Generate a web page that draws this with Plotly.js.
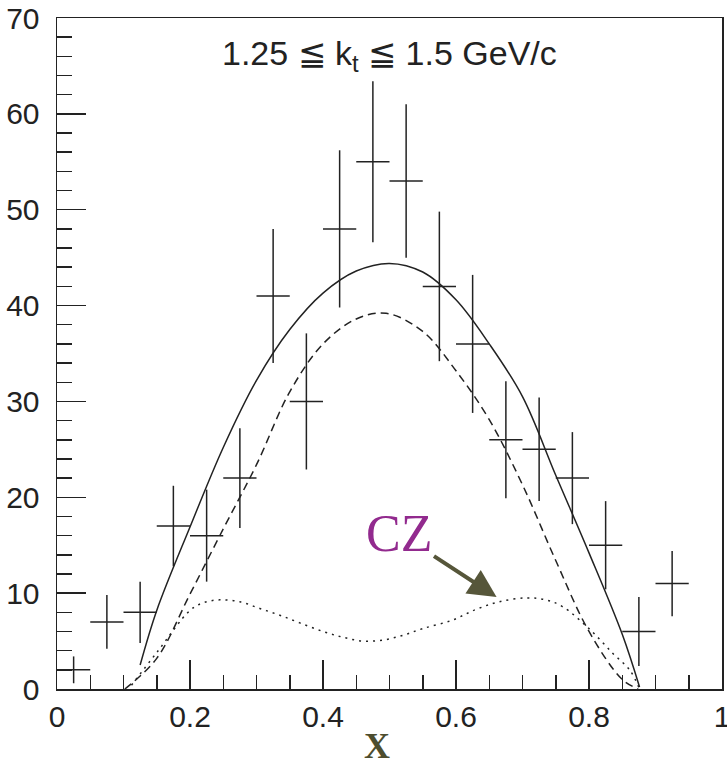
<!DOCTYPE html>
<html>
<head>
<meta charset="utf-8">
<script src="https://cdn.plot.ly/plotly-3.0.1.min.js"></script>
<style>html,body{margin:0;padding:0;background:#fff;}#chart{width:727px;height:769px;}</style>
</head>
<body>
<div id="chart"></div>
<script>
// Data points (bin centres, counts, vertical errors)
const dataX = [0.025,0.075,0.125,0.175,0.225,0.275,0.325,0.375,0.425,0.475,0.525,0.575,0.625,0.675,0.725,0.775,0.825,0.875,0.925];
const dataY = [2,7,8,17,16,22,41,30,48,55,53,42,36,26,25,22,15,6,11];
const dataErr = [1.4,2.8,3.2,4.2,4.8,5.2,7.0,7.1,8.2,8.4,8.0,7.8,7.2,6.1,5.4,4.8,4.6,3.6,3.4];
const binHalfWidth = 0.025;

// Total model (solid)
const solidX = [0.125,0.15,0.2,0.25,0.3,0.35,0.4,0.45,0.5,0.55,0.6,0.65,0.7,0.75,0.8,0.85,0.876];
const solidY = [2.5,8.2,16.9,25.2,32.2,37.5,41.3,43.6,44.4,43.5,40.6,36.0,30.5,22.3,14.2,5.7,0.2];

// Dashed component
const dashX = [0.102,0.15,0.2,0.25,0.3,0.35,0.4,0.45,0.495,0.55,0.6,0.65,0.7,0.75,0.8,0.85,0.874];
const dashY = [0,3.2,9.9,16.7,23.4,31.0,36.0,38.6,39.2,37.3,33.2,28.1,21.3,13.4,6.0,1.0,0];

// CZ component (dotted)
const czX = [0.112,0.15,0.2,0.22,0.245,0.275,0.305,0.335,0.365,0.4,0.43,0.46,0.49,0.52,0.55,0.595,0.63,0.665,0.706,0.735,0.76,0.8,0.836,0.861,0.876];
const czY = [0.4,3.8,8.2,9.0,9.3,9.1,8.4,7.7,6.9,6.0,5.4,5.0,5.1,5.6,6.3,7.2,8.3,9.1,9.5,9.3,8.6,6.3,3.7,2.0,0];

const titleText = "1.25 ≦ k<sub>t</sub> ≦ 1.5 GeV/c";
const czLabel = "CZ";
const xLabel = "X";

const ink = '#222';

const traces = [
  {x: solidX, y: solidY, mode: 'lines', line: {color: ink, width: 1.5, shape: 'spline', smoothing: 1}, hoverinfo: 'skip'},
  {x: dashX, y: dashY, mode: 'lines', line: {color: ink, width: 1.5, dash: '8px,5px', shape: 'spline', smoothing: 1}, hoverinfo: 'skip'},
  {x: czX, y: czY, mode: 'lines', line: {color: ink, width: 1.5, dash: '2px,5px', shape: 'spline', smoothing: 1}, hoverinfo: 'skip'},
  {x: dataX, y: dataY, mode: 'markers', marker: {size: 1, color: 'rgba(0,0,0,0)'},
   error_y: {type: 'data', array: dataErr, visible: true, width: 0, thickness: 1.5, color: ink},
   error_x: {type: 'constant', value: binHalfWidth, visible: true, width: 0, thickness: 1.5, color: ink}}
];

const tickFont = {family: 'Liberation Sans, Arial, sans-serif', size: 30, color: ink};

const layout = {
  width: 727, height: 769,
  margin: {l: 57, r: 5, t: 18, b: 80},
  paper_bgcolor: '#fff', plot_bgcolor: '#fff',
  showlegend: false,
  xaxis: {
    range: [0, 1], showgrid: false, zeroline: false,
    showline: true, linecolor: ink, linewidth: 1.5, mirror: true,
    ticks: 'inside', ticklen: 29, tickwidth: 1.5, tickcolor: ink,
    dtick: 0.2, tick0: 0, tickfont: tickFont, ticklabelstandoff: 0,
    ticklabeloverflow: 'allow',
    minor: {ticks: 'inside', ticklen: 14, tickwidth: 1.5, tickcolor: ink, dtick: 0.05, tick0: 0, showgrid: false}
  },
  yaxis: {
    range: [0, 70], showgrid: false, zeroline: false,
    showline: true, linecolor: ink, linewidth: 1.5, mirror: true,
    ticks: 'inside', ticklen: 29, tickwidth: 1.5, tickcolor: ink,
    dtick: 10, tick0: 0, tickfont: tickFont, ticklabelstandoff: 10,
    ticklabeloverflow: 'allow',
    minor: {ticks: 'inside', ticklen: 15, tickwidth: 1.5, tickcolor: ink, dtick: 2, tick0: 0, showgrid: false}
  },
  annotations: [
    {xref: 'paper', yref: 'paper', x: 0.50, y: 0.979, xanchor: 'center', yanchor: 'top',
     text: titleText, showarrow: false, font: {family: 'Liberation Sans, Arial, sans-serif', size: 34, color: ink}},
    {xref: 'x', yref: 'y', x: 0.661, y: 9.6, axref: 'x', ayref: 'y', ax: 0.515, ay: 16.2,
     text: czLabel, showarrow: true, arrowhead: 2, arrowsize: 1.4, arrowwidth: 4, arrowcolor: '#56563a', standoff: 0,
     font: {family: 'Liberation Serif, Times New Roman, serif', size: 52, color: '#922a8e'}},
    {xref: 'paper', yref: 'paper', x: 0.481, y: -0.085, xanchor: 'center', yanchor: 'middle',
     text: '<b>' + xLabel + '</b>', showarrow: false, font: {family: 'Liberation Serif, Times New Roman, serif', size: 36, color: '#4d4d2e'}}
  ]
};

Plotly.newPlot('chart', traces, layout, {displayModeBar: false, staticPlot: true});
</script>
</body>
</html>
